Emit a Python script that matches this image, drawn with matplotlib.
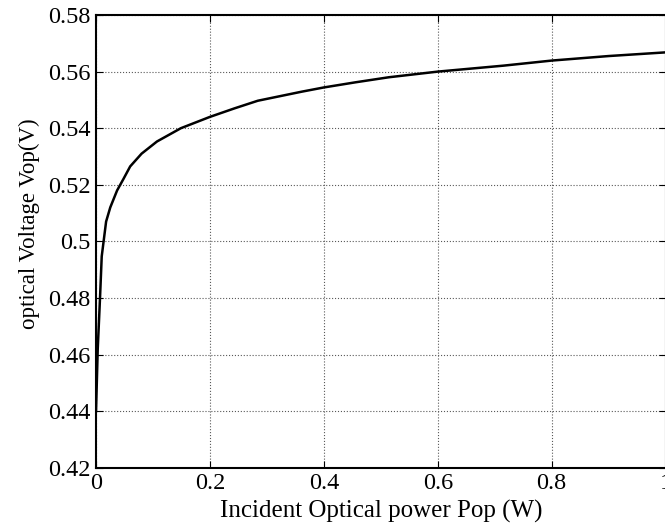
import matplotlib.pyplot as plt
import numpy as np

plt.rcParams['font.family'] = ['Liberation Serif', 'DejaVu Serif']

# incident optical power (W) and optical voltage (V)
power = [0, 0.003, 0.007, 0.010, 0.0177, 0.025, 0.037, 0.048, 0.06, 0.08,
         0.107, 0.149, 0.2, 0.243, 0.284, 0.361, 0.4, 0.455, 0.514, 0.6,
         0.715, 0.8, 0.9, 1.0]
voltage = [0.44, 0.462, 0.48, 0.4947, 0.507, 0.512, 0.518, 0.522, 0.5265, 0.531,
           0.5353, 0.540, 0.544, 0.547, 0.5497, 0.5529, 0.5544, 0.5562, 0.558, 0.560,
           0.5621, 0.5639, 0.5655, 0.5668]

xticks = [0, 0.2, 0.4, 0.6, 0.8, 1.0]
xticklabels = ["0", "0.2", "0.4", "0.6", "0.8", "1"]
yticks = [0.42, 0.44, 0.46, 0.48, 0.50, 0.52, 0.54, 0.56, 0.58]
yticklabels = ["0.42", "0.44", "0.46", "0.48", "0.5", "0.52", "0.54", "0.56", "0.58"]

fig = plt.figure(figsize=(6.65, 5.27), dpi=100)
ax = fig.add_axes([0.1444, 0.1125, 0.8565, 0.859])

ax.plot(power, voltage, color='black', linewidth=1.8, zorder=3)

ax.set_xlim(0, 1)
ax.set_ylim(0.42, 0.58)
ax.set_xticks(xticks)
ax.set_xticklabels(xticklabels)
ax.set_yticks(yticks)
ax.set_yticklabels(yticklabels)
ax.tick_params(direction='in', length=5, width=0.8, labelsize=17.5,
               top=True, right=True, colors='black', pad=4)
for s in ax.spines.values():
    s.set_linewidth(1.5)

ax.grid(True, linestyle=':', color='0.35', linewidth=0.8, zorder=0)

ax.set_xlabel('Incident Optical power Pop (W)', fontsize=18, labelpad=4)
ax.set_ylabel('optical Voltage Vop(V)', fontsize=16.5)
ax.yaxis.set_label_coords(-0.099, 0.538)

plt.savefig("out.png", dpi=100)
